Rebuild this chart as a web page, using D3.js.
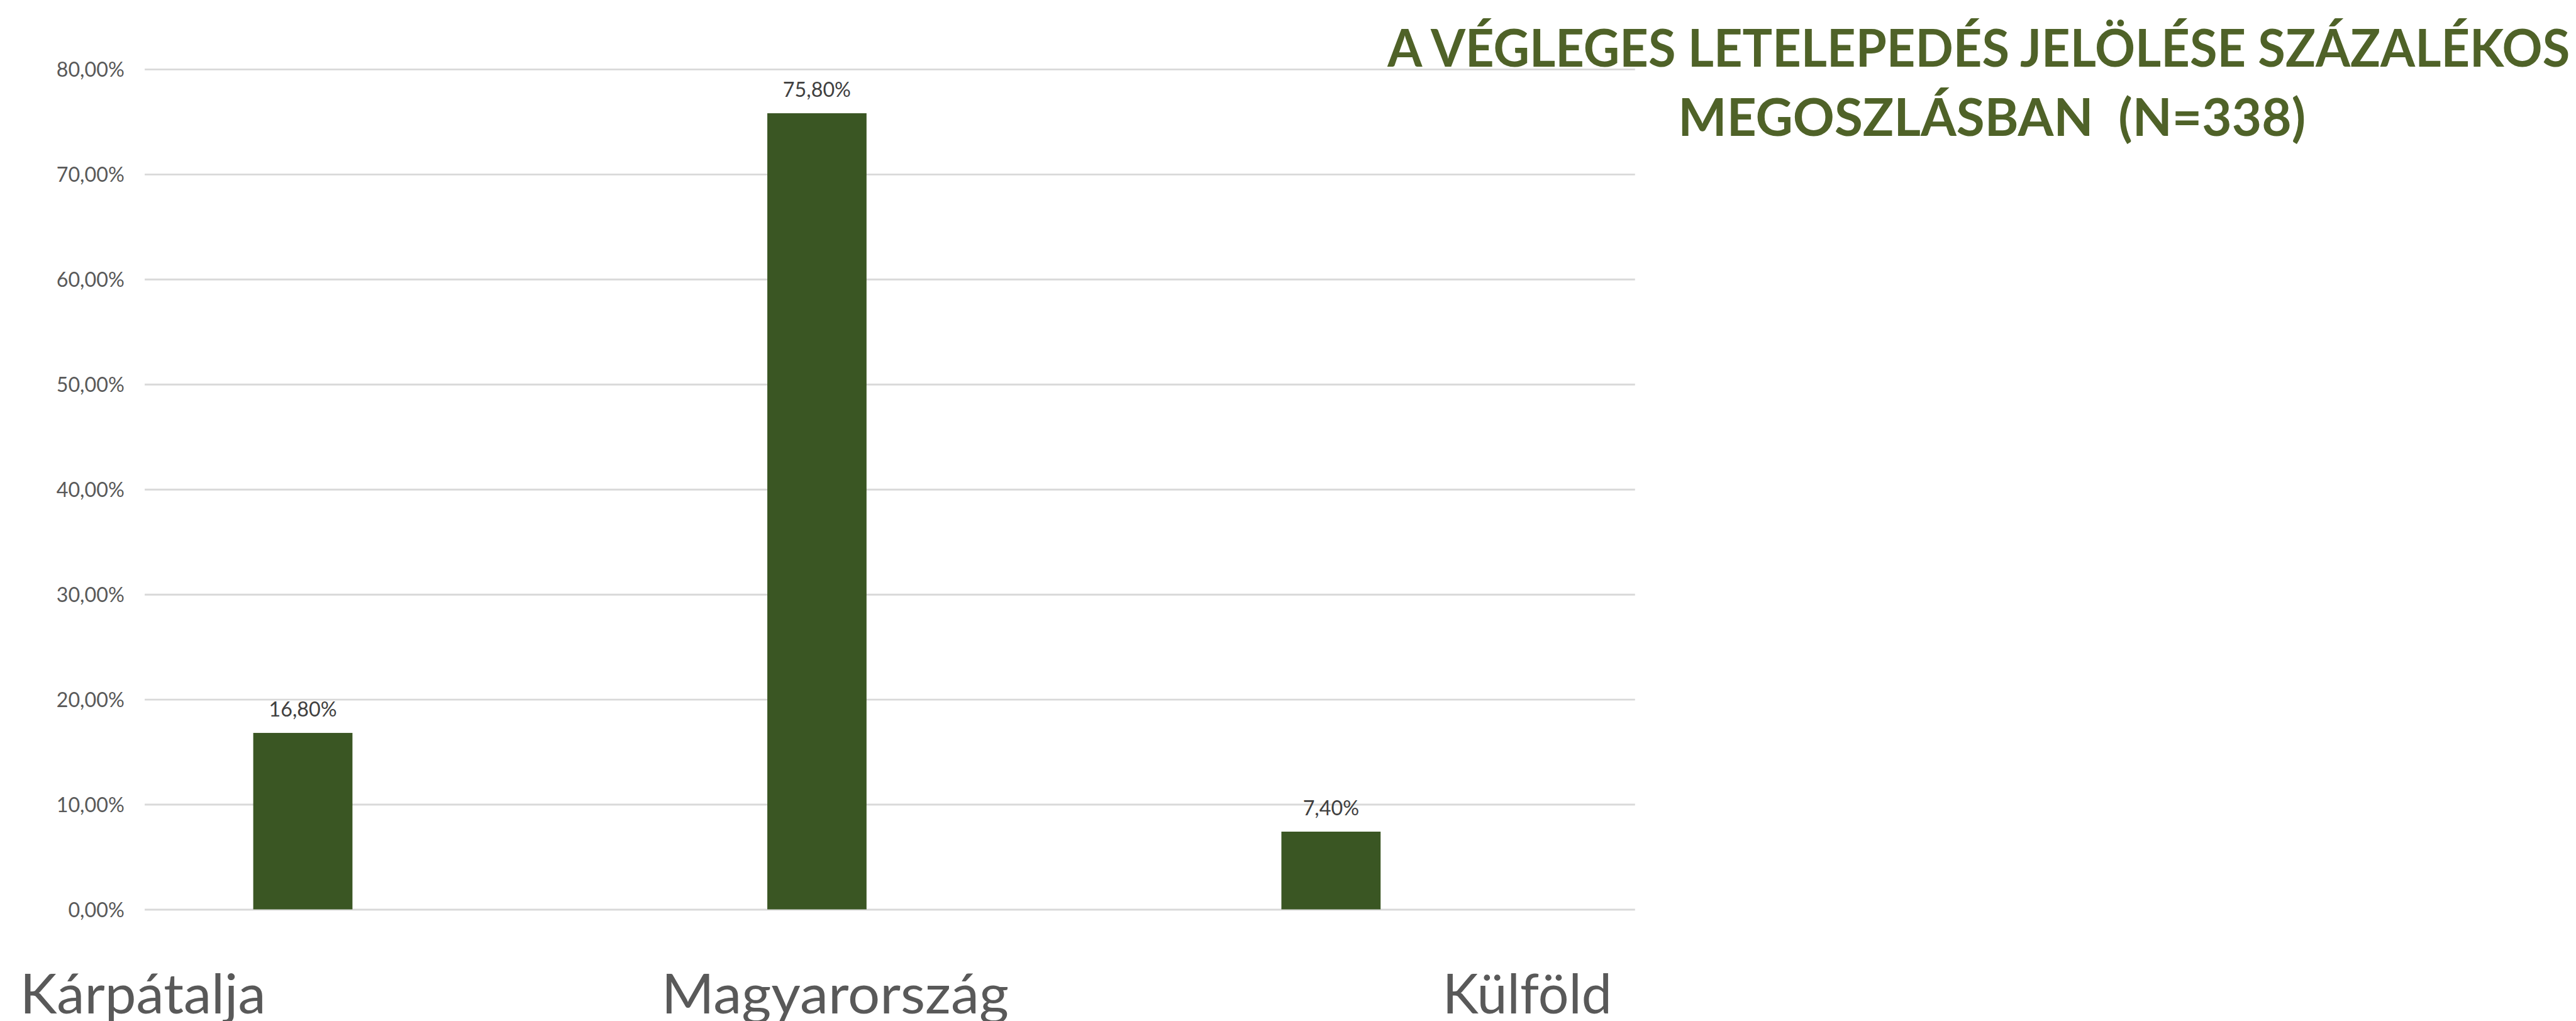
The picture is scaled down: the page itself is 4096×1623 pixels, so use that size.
<!DOCTYPE html>
<html>
<head>
<meta charset="utf-8">
<script src="https://cdn.jsdelivr.net/npm/d3@7/dist/d3.min.js"></script>
<style>
  html, body { margin: 0; padding: 0; background: #ffffff; overflow: hidden; }
  svg { display: block; }
</style>
</head>
<body>
<script>
// ---- data ----
const categories = ["Kárpátalja", "Magyarország", "Külföld"];
const values = [0.168, 0.758, 0.074];
const dataLabels = ["16,80%", "75,80%", "7,40%"];
const tickValues = [0, 0.1, 0.2, 0.3, 0.4, 0.5, 0.6, 0.7, 0.8];
const titleLines = ["A VÉGLEGES LETELEPEDÉS JELÖLÉSE SZÁZALÉKOS", "MEGOSZLÁSBAN  (N=338)"];

// ---- layout (reference pixel space, scaled by viewBox) ----
const W = 4183, H = 1657;
const svg = d3.select("body").append("svg")
  .attr("width", 4096).attr("height", 1623)
  .attr("viewBox", `0 0 ${W} ${H}`);

svg.append("rect").attr("width", W).attr("height", H).attr("fill", "#ffffff");

const plot = { left: 235, right: 2655, top: 112, bottom: 1476 };

const y = d3.scaleLinear().domain([0, 0.8]).range([plot.bottom, plot.top]);
const x = d3.scaleBand().domain(categories)
  .range([plot.left, plot.right])
  .paddingInner(0.807).paddingOuter(0.353).align(0.299);

const locale = d3.formatLocale({ decimal: ",", thousands: " ", grouping: [3], currency: ["", ""] });
const pct = locale.format(".2%");

const font = "Lato, Calibri, 'Open Sans', sans-serif";

// gridlines
const yAxis = d3.axisLeft(y).tickValues(tickValues).tickFormat(pct)
  .tickSize(-(plot.right - plot.left)).tickPadding(33);
const gAxis = svg.append("g").attr("transform", `translate(${plot.left},0)`).call(yAxis);
gAxis.select(".domain").remove();
gAxis.selectAll(".tick line").attr("stroke", "#d9d9d9").attr("stroke-width", 3);
gAxis.selectAll(".tick text")
  .attr("fill", "#595959").attr("font-family", font).attr("font-size", 33)
  .attr("dy", "0.36em");

// bars
svg.append("g").selectAll("rect").data(values).join("rect")
  .attr("x", (d, i) => x(categories[i]))
  .attr("width", x.bandwidth())
  .attr("y", d => y(d))
  .attr("height", d => y(0) - y(d))
  .attr("fill", "#3a5623");

// data labels
svg.append("g").selectAll("text").data(values).join("text")
  .attr("x", (d, i) => x(categories[i]) + x.bandwidth() / 2)
  .attr("y", d => y(d) - 27)
  .attr("text-anchor", "middle")
  .attr("fill", "#404040")
  .attr("font-family", font).attr("font-size", 33)
  .text((d, i) => dataLabels[i]);

// category labels
const xl = d3.scalePoint().domain(categories).range([232, 2480]);
const catWidths = [399, 564, 275];
svg.append("g").selectAll("text").data(categories).join("text")
  .attr("x", d => xl(d))
  .attr("y", 1645)
  .attr("text-anchor", "middle")
  .attr("fill", "#595959")
  .attr("font-family", font).attr("font-size", 90)
  .attr("textLength", (d, i) => catWidths[i])
  .attr("lengthAdjust", "spacingAndGlyphs")
  .text(d => d);

// title
const title = svg.append("g").attr("fill", "#4f6228")
  .attr("font-family", font).attr("font-weight", "bold").attr("font-size", 84);
title.append("text").attr("x", 2253).attr("y", 108)
  .attr("textLength", 1920).attr("lengthAdjust", "spacingAndGlyphs")
  .text(titleLines[0]);
title.append("text").attr("x", 2725).attr("y", 220)
  .attr("textLength", 1019).attr("lengthAdjust", "spacingAndGlyphs")
  .style("white-space", "pre")
  .text(titleLines[1]);
</script>
</body>
</html>
